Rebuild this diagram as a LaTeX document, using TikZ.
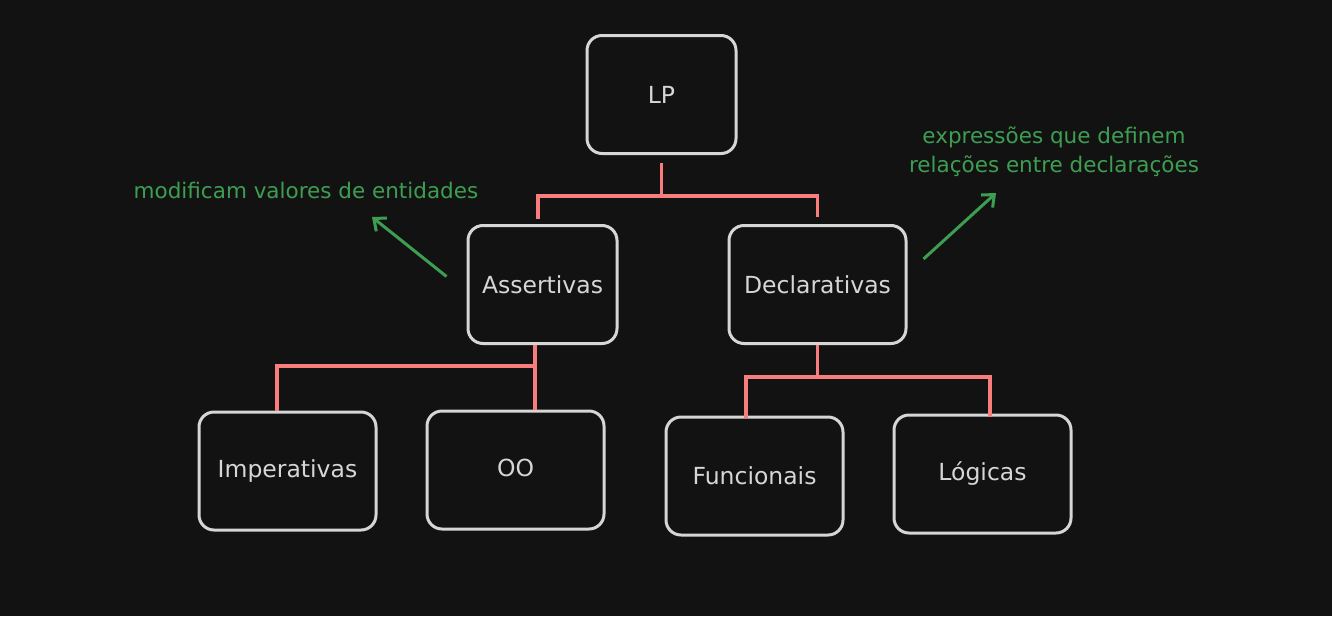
\documentclass[tikz,border=0pt]{standalone}
\usepackage{fontspec}
\setmainfont{DejaVu Sans}
\usetikzlibrary{arrows.meta}
\definecolor{bg}{HTML}{121212}
\definecolor{boxline}{HTML}{D6D6D6}
\definecolor{redl}{HTML}{F87D7D}
\definecolor{greenl}{HTML}{3D9E52}
\tikzset{
  box/.style={draw=boxline, line width=3pt, rounded corners=15pt, fill=bg,
    minimum width=#1, minimum height=118pt, text=boxline, font=\fontsize{23.5}{28}\selectfont},
  box/.default=149pt,
  conn/.style={draw=redl, line width=3.2pt},
  garrow/.style={draw=greenl, line width=3pt, -{Straight Barb[length=10pt,width=17pt,line width=3pt]}},
  note/.style={text=greenl, font=\fontsize{21.5}{29}\selectfont, align=center, inner sep=0pt}
}
\begin{document}
\begin{tikzpicture}[x=1pt,y=-1pt]
\fill[bg] (0,0) rectangle (1332,616);
\useasboundingbox (0,0) rectangle (1332,616);

\node[box] (lp) at (661.5,94.5) {\raisebox{-2pt}{LP}};
\node[box] (ass) at (542.5,284.5) {\raisebox{-2pt}{Assertivas}};
\node[box=177pt] (dec) at (817.5,284.5) {\raisebox{-2pt}{Declarativas}};
\node[box=177pt] (imp) at (287.5,471) {\raisebox{-2pt}{Imperativas}};
\node[box=177pt] (oo) at (515.5,470) {\raisebox{5pt}{OO}};
\node[box=177pt] (fun) at (754.5,476) {\raisebox{-2pt}{Funcionais}};
\node[box=177pt] (log) at (982.5,474) {\raisebox{3pt}{Lógicas}};

\node[note] (n1) at (306,190) {modificam valores de entidades};
\node[note] (n2) at (1054,152) {expressões que definem\\relações entre declarações};

% LP tree
\coordinate (lpj) at (661.5,196);
\draw[conn] ([yshift=-8pt]lp.south) -- (lpj);
\draw[conn] ([xshift=-4.5pt,yshift=5pt]ass.north) |- (lpj) -| ([yshift=7pt]dec.north);

% Assertivas tree
\coordinate (aj) at (535,366);
\draw[conn] ([xshift=-7.5pt]ass.south) -- (aj);
\draw[conn] ([xshift=-10.5pt]imp.north) |- (aj) -- (aj |- oo.north);

% Declarativas tree
\coordinate (dj) at (817.5,377);
\draw[conn] (dec.south) -- (dj);
\draw[conn] ([xshift=-8.5pt,yshift=-2pt]fun.north) |- (dj) -| ([xshift=7.5pt,yshift=-3pt]log.north);

% notes
\coordinate (a1) at (372,217);
\coordinate (a2) at (996,193);
\draw[garrow] ([xshift=-20pt,yshift=8pt]ass.west) -- (a1);
\draw[garrow] ([xshift=16pt,yshift=25.5pt]dec.east) -- (a2);
\end{tikzpicture}
\end{document}
